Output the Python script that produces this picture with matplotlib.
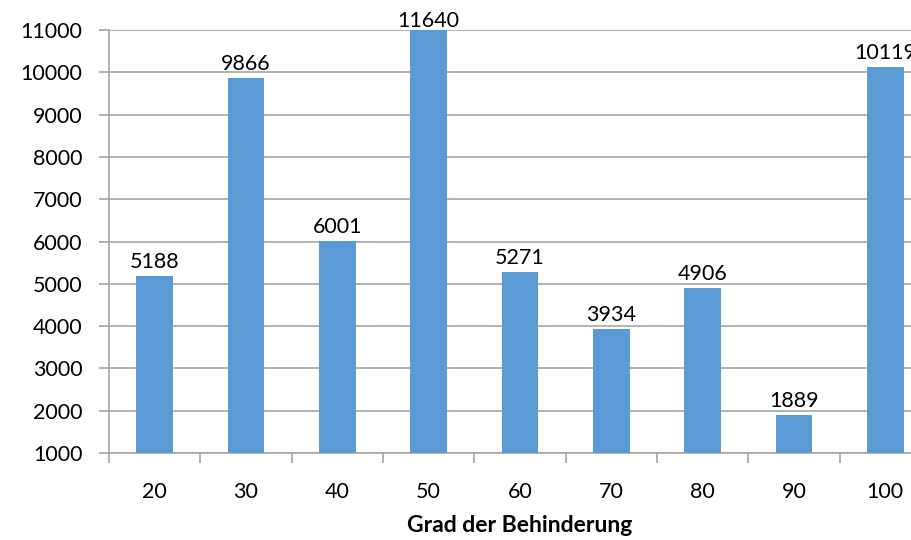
import matplotlib.pyplot as plt
from matplotlib.ticker import FixedLocator

categories = ["20", "30", "40", "50", "60", "70", "80", "90", "100"]
values = [5188, 9866, 6001, 11640, 5271, 3934, 4906, 1889, 10119]
y_ticks = list(range(1000, 11001, 1000))

plt.rcParams["font.family"] = ["Lato", "DejaVu Sans"]

fig = plt.figure(figsize=(9.12, 5.4), dpi=100)
# axes run a little past the right edge, as in the reference
ax = fig.add_axes([109 / 912, 87 / 540, 822 / 912, 423 / 540])

x = list(range(len(categories)))
ax.bar(x, values, width=0.4, color="#5B9BD5", zorder=3)

ymin, ymax = 1000, 11000
ax.set_ylim(ymin, ymax)
ax.set_xlim(-0.5, len(categories) - 0.5)

fs = 15.5
for xi, v in zip(x, values):
    if v > ymax:
        ax.annotate(f"{v}", (xi, ymax), xytext=(0, -1), textcoords="offset points",
                    ha="center", va="bottom", fontsize=fs, color="black",
                    annotation_clip=False)
    else:
        ax.annotate(f"{v}", (xi, v), xytext=(0, 3), textcoords="offset points",
                    ha="center", va="bottom", fontsize=fs, color="black",
                    annotation_clip=False)

grey = "#a6a6a6"
ax.set_yticks(y_ticks)
ax.yaxis.grid(True, color=grey, linewidth=1.2, zorder=0)
ax.set_axisbelow(True)

ax.set_xticks(x)
ax.set_xticklabels(categories)
ax.xaxis.set_minor_locator(FixedLocator([i - 0.5 for i in range(len(categories) + 1)]))
ax.tick_params(axis="x", which="major", length=0, pad=21, labelsize=fs)
ax.tick_params(axis="x", which="minor", length=7, width=1.2, color=grey, direction="out")
ax.tick_params(axis="y", length=7, width=1.2, color=grey, pad=12, labelsize=fs)

for side in ("top", "right"):
    ax.spines[side].set_visible(False)
for side in ("left", "bottom"):
    ax.spines[side].set_color(grey)
    ax.spines[side].set_linewidth(1.2)

ax.set_xlabel("Grad der Behinderung", fontsize=16.5, fontweight="bold", labelpad=9)

fig.savefig("out.png", dpi=100)
